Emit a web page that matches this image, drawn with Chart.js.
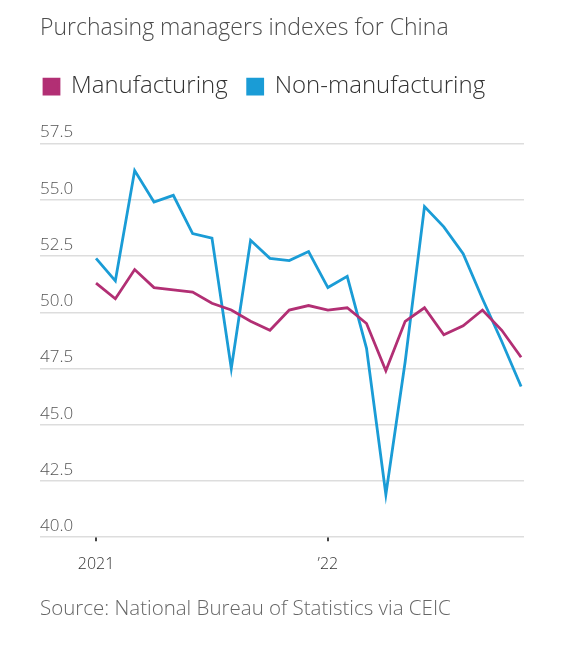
<!DOCTYPE html>
<html>
<head>
<meta charset="utf-8">
<script src="https://cdn.jsdelivr.net/npm/chart.js@4"></script>
<style>
  html, body { margin: 0; padding: 0; background: #fff; }
  #wrap { width: 575px; height: 648px; }
</style>
</head>
<body>
<div id="wrap"><canvas id="pmi-chart"></canvas></div>
<script>
// monthly readings, Jan 2021 .. Nov 2022
const months = ['Jan 2021', 'Feb 2021', 'Mar 2021', 'Apr 2021', 'May 2021', 'Jun 2021',
    'Jul 2021', 'Aug 2021', 'Sep 2021', 'Oct 2021', 'Nov 2021', 'Dec 2021',
    'Jan 2022', 'Feb 2022', 'Mar 2022', 'Apr 2022', 'May 2022', 'Jun 2022',
    'Jul 2022', 'Aug 2022', 'Sep 2022', 'Oct 2022', 'Nov 2022'];
const manufacturing = [51.3, 50.6, 51.9, 51.1, 51.0, 50.9, 50.4, 50.1, 49.6, 49.2, 50.1, 50.3,
    50.1, 50.2, 49.5, 47.4, 49.6, 50.2, 49.0, 49.4, 50.1, 49.2, 48.0];
const nonManufacturing = [52.4, 51.4, 56.3, 54.9, 55.2, 53.5, 53.3, 47.5, 53.2, 52.4, 52.3, 52.7,
    51.1, 51.6, 48.4, 41.9, 47.8, 54.7, 53.8, 52.6, 50.6, 48.7, 46.7];
const xTickIndex = [0, 12];
const xTickLabels = ['2021', '\u201922'];

const toPoints = arr => arr.map((v, i) => ({ x: i, y: v }));

// extra room under the legend row, and pull the row back to the left edge
const legendTweak = {
    id: 'legendTweak',
    beforeInit(chart) {
        const fit = chart.legend.fit;
        chart.legend.fit = function () {
            fit.call(this);
            this.height += 35;
        };
    },
    afterLayout(chart) {
        chart.legend.left -= 16;
        chart.legend.right -= 16;
    }
};

const ctx = document.getElementById('pmi-chart').getContext('2d');

new Chart(ctx, {
    type: 'line',
    data: {
        labels: months,
        datasets: [{
            label: 'Manufacturing',
            data: toPoints(manufacturing),
            borderColor: '#b22f74',
            backgroundColor: '#b22f74',
            borderWidth: 2.8,
            pointRadius: 0,
            tension: 0
        }, {
            label: 'Non-manufacturing',
            data: toPoints(nonManufacturing),
            borderColor: '#1a9cd6',
            backgroundColor: '#1a9cd6',
            borderWidth: 2.8,
            pointRadius: 0,
            tension: 0
        }]
    },
    options: {
        responsive: true,
        maintainAspectRatio: false,
        animation: false,
        layout: { padding: { left: 40, right: 51, top: 15, bottom: 27 } },
        plugins: {
            title: {
                display: true,
                text: 'Purchasing managers indexes for China',
                align: 'start',
                color: '#4d4d4d',
                font: { family: 'Open Sans', size: 23, weight: 300 },
                padding: { top: 0, bottom: 12 }
            },
            subtitle: {
                display: true,
                position: 'bottom',
                text: 'Source: National Bureau of Statistics via CEIC',
                align: 'start',
                color: '#666',
                font: { family: 'Open Sans', size: 20.5, weight: 300 },
                padding: { top: 8, bottom: 0 }
            },
            legend: {
                display: true,
                align: 'start',
                labels: {
                    boxWidth: 15,
                    boxHeight: 15,
                    color: '#333',
                    padding: 20,
                    font: { family: 'Open Sans', size: 24, weight: 300 }
                }
            },
            tooltip: { enabled: false }
        },
        scales: {
            x: {
                type: 'linear',
                min: -2.9,
                max: 22.15,
                afterBuildTicks: axis => {
                    axis.ticks = xTickIndex.map(v => ({ value: v }));
                },
                ticks: {
                    autoSkip: false,
                    maxRotation: 0,
                    color: '#333',
                    padding: 14,
                    font: { family: 'Open Sans', size: 16, weight: 300 },
                    callback: v => xTickLabels[xTickIndex.indexOf(v)]
                },
                grid: {
                    drawOnChartArea: false,
                    drawTicks: true,
                    tickLength: 4,
                    color: '#444',
                    lineWidth: 2
                },
                border: { display: false }
            },
            y: {
                min: 40,
                max: 57.5,
                afterFit: axis => { axis.width = 0; },
                ticks: {
                    stepSize: 2.5,
                    mirror: true,
                    padding: 0,
                    labelOffset: -11,
                    color: '#555',
                    font: { family: 'Open Sans', size: 17, weight: 300 },
                    callback: v => v.toFixed(1)
                },
                grid: {
                    color: '#ddd',
                    lineWidth: 1.5,
                    drawTicks: false
                },
                border: { display: false }
            }
        }
    },
    plugins: [legendTweak]
});
</script>
</body>
</html>
